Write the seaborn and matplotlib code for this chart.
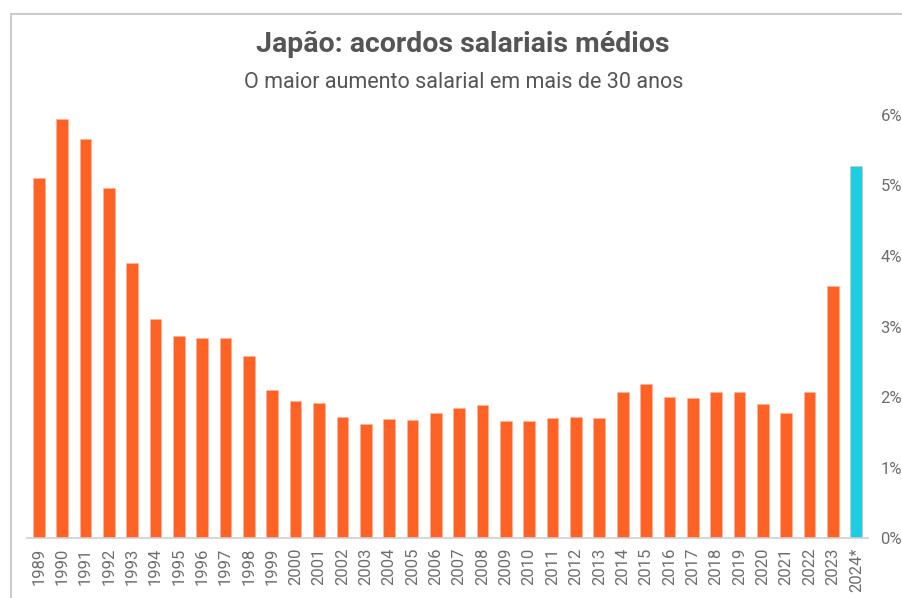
import matplotlib
matplotlib.use("Agg")
import matplotlib.pyplot as plt
from matplotlib.lines import Line2D
import seaborn as sns

years = ["1989", "1990", "1991", "1992", "1993", "1994", "1995", "1996", "1997",
         "1998", "1999", "2000", "2001", "2002", "2003", "2004", "2005", "2006",
         "2007", "2008", "2009", "2010", "2011", "2012", "2013", "2014", "2015",
         "2016", "2017", "2018", "2019", "2020", "2021", "2022", "2023", "2024*"]
wage_growth = [5.11, 5.95, 5.66, 4.97, 3.90, 3.11, 2.87, 2.84, 2.84,
               2.58, 2.10, 1.94, 1.91, 1.71, 1.62, 1.69, 1.67, 1.78,
               1.85, 1.88, 1.66, 1.66, 1.70, 1.71, 1.70, 2.07, 2.19,
               2.00, 1.98, 2.07, 2.07, 1.90, 1.78, 2.07, 3.58, 5.28]
y_ticks = [0, 1, 2, 3, 4, 5, 6]

ORANGE = "#FF6224"
CYAN = "#1BCFE3"
colors = [ORANGE] * (len(years) - 1) + [CYAN]

sns.set_style("white")
plt.rcParams["font.family"] = ["Roboto", "DejaVu Sans"]

fig = plt.figure(figsize=(9.03, 5.98), dpi=100)
ax = fig.add_axes([0.0299, 0.1003, 0.9313, 0.7074])

sns.barplot(x=years, y=wage_growth, hue=years, palette=colors, legend=False,
            width=0.5, ax=ax, saturation=1, edgecolor="#FFB49A", linewidth=0.4)

ax.set_xlim(-0.5, 35.5)
ax.set_ylim(0, 6)
ax.set_xlabel("")
ax.set_ylabel("")

for side in ["top", "left", "right"]:
    ax.spines[side].set_visible(False)
ax.spines["bottom"].set_color("#CFCFCF")
ax.spines["bottom"].set_linewidth(1.2)

ax.yaxis.tick_right()
ax.set_yticks(y_ticks)
ax.set_yticklabels([f"{t}%" for t in y_ticks])
ax.tick_params(axis="y", length=0, pad=9, labelsize=12, labelcolor="#6e6e6e")
ax.tick_params(axis="x", length=0, pad=7, labelsize=12, labelcolor="#6e6e6e",
               rotation=90)

fig.text(0.512, 0.925, "Japão: acordos salariais médios", ha="center", va="center",
         fontsize=20.5, fontweight="bold", color="#555555")
fig.text(0.514, 0.862, "O maior aumento salarial em mais de 30 anos", ha="center",
         va="center", fontsize=15.5, color="#555555")

# outer frame (top and left edges visible)
fig.add_artist(Line2D([11 / 903, 1], [1 - 14 / 598, 1 - 14 / 598],
                      transform=fig.transFigure, color="#CCCCCC", linewidth=1.5))
fig.add_artist(Line2D([11 / 903, 11 / 903], [0, 1 - 14 / 598],
                      transform=fig.transFigure, color="#CCCCCC", linewidth=1.5))

fig.savefig("out.png", dpi=100)
plt.close(fig)
